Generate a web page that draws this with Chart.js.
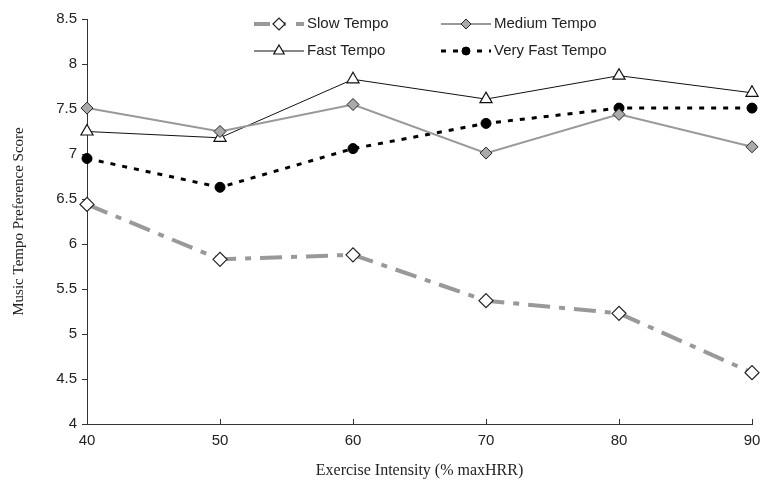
<!DOCTYPE html>
<html>
<head>
<meta charset="utf-8">
<script src="https://cdn.jsdelivr.net/npm/chart.js@4/dist/chart.umd.min.js"></script>
<style>
  html, body { margin: 0; padding: 0; background: #fff; }
  #wrap { width: 778px; height: 488px; }
</style>
</head>
<body>
<div id="wrap"><canvas id="myChart" width="778" height="488"></canvas></div>
<script>
const intensity = [40, 50, 60, 70, 80, 90];
const slowTempo = [6.44, 5.83, 5.88, 5.37, 5.23, 4.57];
const mediumTempo = [7.51, 7.25, 7.55, 7.01, 7.44, 7.08];
const fastTempo = [7.25, 7.18, 7.83, 7.61, 7.87, 7.68];
const veryFastTempo = [6.95, 6.63, 7.06, 7.34, 7.51, 7.51];
const yTicks = [4, 4.5, 5, 5.5, 6, 6.5, 7, 7.5, 8, 8.5];

const toPoints = values => values.map((v, i) => ({ x: intensity[i], y: v }));

// legend drawn by hand: two columns, line sample with marker in the middle
const legendSlots = [
    { x: 254, y: 24 },
    { x: 441, y: 24 },
    { x: 254, y: 51 },
    { x: 441, y: 51 }
];

const tempoLegend = {
    id: 'tempoLegend',
    afterDraw(chart) {
        const ctx = chart.ctx;
        chart.data.datasets.forEach((ds, i) => {
            const slot = legendSlots[i];
            const lineLen = 50;
            ctx.save();
            ctx.strokeStyle = ds.borderColor;
            ctx.lineWidth = ds.borderWidth;
            ctx.setLineDash(ds.borderDash ? [16, 10, 6, 10] : []);
            if (i === 3) ctx.setLineDash([5, 7]);
            ctx.beginPath();
            ctx.moveTo(slot.x, slot.y);
            ctx.lineTo(slot.x + lineLen, slot.y);
            ctx.stroke();
            ctx.setLineDash([]);
            ctx.fillStyle = ds.pointBackgroundColor;
            ctx.strokeStyle = ds.pointBorderColor;
            ctx.lineWidth = ds.pointBorderWidth;
            Chart.helpers.drawPoint(ctx, {
                pointStyle: ds.pointStyle,
                radius: ds.pointRadius - 1,
                rotation: 0,
                borderWidth: ds.pointBorderWidth
            }, slot.x + lineLen / 2, slot.y);
            ctx.fillStyle = '#222';
            ctx.font = '15px Arial, "Liberation Sans", sans-serif';
            ctx.textBaseline = 'middle';
            ctx.fillText(ds.label, slot.x + lineLen + 3, slot.y);
            ctx.restore();
        });
    }
};

// small x ticks that point up into the plot
const innerXTicks = {
    id: 'innerXTicks',
    afterDatasetsDraw(chart) {
        const ctx = chart.ctx;
        const xScale = chart.scales.x;
        const bottom = chart.chartArea.bottom;
        ctx.save();
        ctx.strokeStyle = '#333';
        ctx.lineWidth = 1;
        intensity.forEach(v => {
            const px = Math.round(xScale.getPixelForValue(v)) + 0.5;
            ctx.beginPath();
            ctx.moveTo(px, bottom);
            ctx.lineTo(px, bottom - 5);
            ctx.stroke();
        });
        ctx.restore();
    }
};

const ctx = document.getElementById('myChart').getContext('2d');
const myChart = new Chart(ctx, {
    type: 'line',
    data: {
        datasets: [{
                label: 'Slow Tempo',
                data: toPoints(slowTempo),
                borderColor: '#999999',
                borderWidth: 4,
                borderDash: [22, 9, 6, 9],
                pointStyle: 'rectRot',
                pointRadius: 7,
                pointBackgroundColor: '#ffffff',
                pointBorderColor: '#222222',
                pointBorderWidth: 1.2
            },
            {
                label: 'Medium Tempo',
                data: toPoints(mediumTempo),
                borderColor: '#999999',
                borderWidth: 2,
                pointStyle: 'rectRot',
                pointRadius: 6,
                pointBackgroundColor: '#aaaaaa',
                pointBorderColor: '#222222',
                pointBorderWidth: 1
            },
            {
                label: 'Fast Tempo',
                data: toPoints(fastTempo),
                borderColor: '#111111',
                borderWidth: 1,
                pointStyle: 'triangle',
                pointRadius: 7,
                pointBackgroundColor: '#ffffff',
                pointBorderColor: '#111111',
                pointBorderWidth: 1.2
            },
            {
                label: 'Very Fast Tempo',
                data: toPoints(veryFastTempo),
                borderColor: '#000000',
                borderWidth: 3,
                borderDash: [5, 7],
                pointStyle: 'circle',
                pointRadius: 5,
                pointBackgroundColor: '#000000',
                pointBorderColor: '#000000',
                pointBorderWidth: 1
            }
        ]
    },
    options: {
        responsive: false,
        animation: false,
        clip: false,
        layout: { padding: { left: 10, right: 26, top: 19, bottom: 8 } },
        plugins: {
            legend: { display: false },
            tooltip: { enabled: false }
        },
        scales: {
            x: {
                type: 'linear',
                min: 40,
                max: 90,
                afterBuildTicks: scale => { scale.ticks = intensity.map(v => ({ value: v })); },
                grid: { drawOnChartArea: false, drawTicks: false, color: '#333' },
                border: { color: '#333', width: 1 },
                ticks: {
                    color: '#222',
                    padding: 8,
                    font: { family: 'Arial, "Liberation Sans", sans-serif', size: 15 }
                },
                title: {
                    display: true,
                    text: 'Exercise Intensity (% maxHRR)',
                    color: '#222',
                    padding: { top: 10, bottom: 0 },
                    font: { family: '"Times New Roman", "Liberation Serif", serif', size: 16 }
                },
                afterFit: scale => { scale.height = 56; }
            },
            y: {
                min: 4,
                max: 8.5,
                afterBuildTicks: scale => { scale.ticks = yTicks.map(v => ({ value: v })); },
                grid: { drawOnChartArea: false, tickLength: 5, color: '#333' },
                border: { color: '#333', width: 1 },
                ticks: {
                    color: '#222',
                    padding: 5,
                    callback: v => String(v),
                    font: { family: 'Arial, "Liberation Sans", sans-serif', size: 15 }
                },
                title: {
                    display: true,
                    text: 'Music Tempo Preference Score',
                    color: '#222',
                    padding: { top: 0, bottom: 12 },
                    font: { family: '"Times New Roman", "Liberation Serif", serif', size: 15 }
                },
                afterFit: scale => { scale.width = 77; }
            }
        }
    },
    plugins: [innerXTicks, tempoLegend]
});
</script>
</body>
</html>
